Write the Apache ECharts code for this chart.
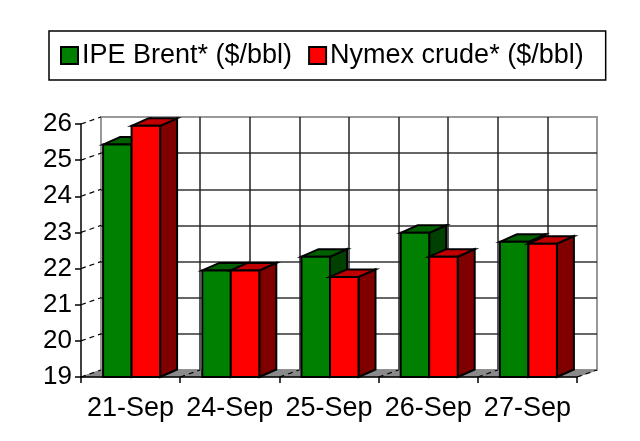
<!DOCTYPE html>
<html><head><meta charset="utf-8">
<style>html,body{margin:0;padding:0;background:#fff}#main{width:640px;height:441px;filter:blur(0.5px)}</style>
<script src="https://cdn.jsdelivr.net/npm/echarts@6/dist/echarts.min.js"></script>
</head><body><div id="main"></div>
<script>
const categories = ['21-Sep','24-Sep','25-Sep','26-Sep','27-Sep'];
const brent = [25.43,21.95,22.33,22.99,22.74];
const nymex = [25.95,21.95,21.77,22.33,22.69];
const yTicks = [19,20,21,22,23,24,25,26];
const names = ['IPE Brent* ($/bbl)','Nymex crude* ($/bbl)'];

const FONT = '"Liberation Sans", Arial, sans-serif';
const WALL_DX = 20, WALL_DY = -7, BAR_DX = 17, BAR_DY = -7.5, BAR_W = 28.5;

function barRenderer(side, front, top, dark) {
  return function (params, api) {
    const p = api.coord([api.value(0), api.value(1)]);
    const base = api.coord([api.value(0), 19]);
    const x0 = p[0] + 1 + (side === 0 ? -BAR_W : 0), x1 = x0 + BAR_W;
    const yT = p[1], yB = base[1];
    const stroke = {stroke:'#000', lineWidth:2, lineJoin:'miter'};
    return {type:'group', children:[
      {type:'polygon', shape:{points:[[x1,yB],[x1+BAR_DX,yB+BAR_DY],[x1+BAR_DX,yT+BAR_DY],[x1,yT]]}, style:Object.assign({fill:dark},stroke)},
      {type:'polygon', shape:{points:[[x0,yT],[x0+BAR_DX,yT+BAR_DY],[x1+BAR_DX,yT+BAR_DY],[x1,yT]]}, style:Object.assign({fill:top},stroke)},
      {type:'rect', shape:{x:x0,y:yT,width:BAR_W,height:yB-yT}, style:Object.assign({fill:front},stroke)}
    ]};
  };
}

const chart = echarts.init(document.getElementById('main'), null, {renderer:'canvas'});
chart.setOption({
  animation:false,
  backgroundColor:'#fff',
  legend:{
    data:names, left:49, top:31, orient:'horizontal', icon:'rect',
    padding:[11,22,11,11], itemGap:16, itemWidth:17, itemHeight:17,
    borderColor:'#000', borderWidth:1.5,
    itemStyle:{borderColor:'#000',borderWidth:2,borderJoin:'miter'},
    textStyle:{fontFamily:FONT,fontSize:27,color:'#000',padding:[0,0,0,-1]}
  },
  grid:[
    {left:81, top:124, width:496, height:253},
    {left:81+WALL_DX, top:124+WALL_DY, width:496, height:253, show:true, backgroundColor:'#fff', borderColor:'#999', borderWidth:2, z:0}
  ],
  xAxis:[
    {type:'category', gridIndex:0, data:categories, z:5,
     axisLine:{lineStyle:{color:'#000',width:1.5}},
     axisTick:{show:true,alignWithLabel:false,length:6,lineStyle:{color:'#000',width:1.5}},
     axisLabel:{fontFamily:FONT,fontSize:27,color:'#000',margin:18,interval:0}},
    {type:'value', gridIndex:1, min:0, max:5, interval:0.5,
     axisLine:{show:false},axisTick:{show:false},axisLabel:{show:false},
     splitLine:{show:true,showMinLine:false,showMaxLine:false,lineStyle:{color:'#222',width:1.5}}}
  ],
  yAxis:[
    {type:'value', gridIndex:0, min:19, max:26, interval:1, z:5,
     axisLine:{show:true,lineStyle:{color:'#000',width:1.5}},
     axisTick:{show:true,length:6,lineStyle:{color:'#000',width:1.5}},
     axisLabel:{fontFamily:FONT,fontSize:26,color:'#000',margin:9},
     splitLine:{show:false}},
    {type:'value', gridIndex:1, min:19, max:26, interval:1,
     axisLine:{show:false},axisTick:{show:false},axisLabel:{show:false},
     splitLine:{show:true,showMinLine:false,showMaxLine:false,lineStyle:{color:'#333',width:1.5}}}
  ],
  series:[
    {type:'custom', name:'floor', xAxisIndex:0, yAxisIndex:0, silent:true, z:2, clip:false,
     data:[[0,19]],
     renderItem(params, api){
       const w = api.size([1,0])[0];
       const p = api.coord([0,19]);
       const xL = p[0]-w/2, y = p[1], xR = xL+w*categories.length;
       return {type:'polygon', shape:{points:[[xL,y],[xL+WALL_DX,y+WALL_DY],[xR+WALL_DX,y+WALL_DY],[xR,y]]}, style:{fill:'#8a8a8a',stroke:'#8a8a8a',lineWidth:1}};
     }},
    {type:'custom', name:'wall', xAxisIndex:0, yAxisIndex:0, silent:true, z:3, clip:false,
     data:yTicks.map(v=>[0,v]),
     renderItem(params, api){
       const w = api.size([1,0])[0];
       const p = api.coord([0,api.value(1)]);
       const x = p[0]-w/2;
       return {type:'line', shape:{x1:x,y1:p[1],x2:x+WALL_DX,y2:p[1]+WALL_DY}, style:{stroke:'#000',lineWidth:1.2,lineDash:[5,4]}};
     }},
    {type:'custom', name:'floorlines', xAxisIndex:0, yAxisIndex:0, silent:true, z:3, clip:false,
     data:categories.map((c,i)=>[i,19]),
     renderItem(params, api){
       const w = api.size([1,0])[0];
       const p = api.coord([api.value(0),19]);
       const x = p[0]+w/2;
       return {type:'line', shape:{x1:x,y1:p[1],x2:x+WALL_DX,y2:p[1]+WALL_DY}, style:{stroke:'#000',lineWidth:1.2,lineDash:[5,4]}};
     }},
    {type:'custom', name:names[0], xAxisIndex:0, yAxisIndex:0, z:4, clip:false,
     itemStyle:{color:'#008000'},
     data:brent.map((v,i)=>[i,v]),
     renderItem:barRenderer(0,'#008000','#006000','#004000')},
    {type:'custom', name:names[1], xAxisIndex:0, yAxisIndex:0, z:4, clip:false,
     itemStyle:{color:'#ff0000'},
     data:nymex.map((v,i)=>[i,v]),
     renderItem:barRenderer(1,'#ff0000','#c00000','#800000')}
  ]
});
</script></body></html>
